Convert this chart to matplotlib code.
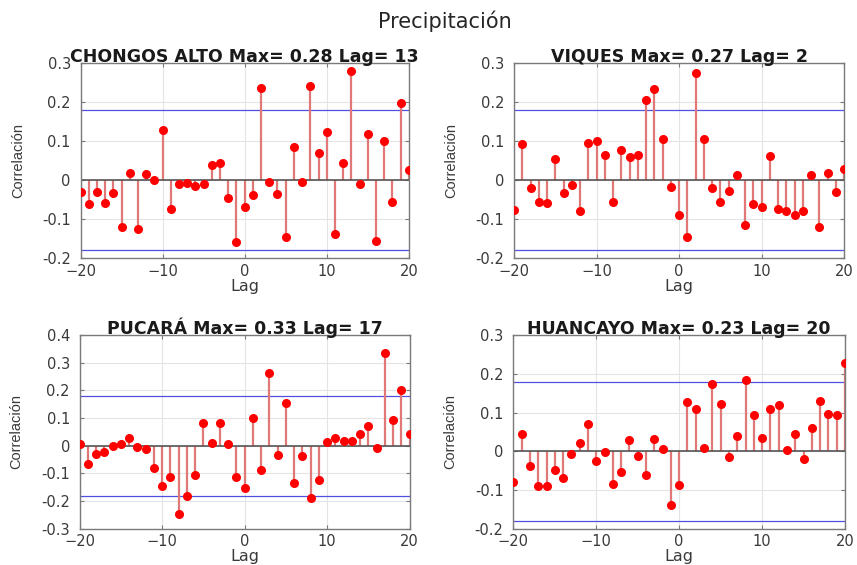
import matplotlib.pyplot as plt
import numpy as np

lags = list(range(-20, 21))

chongos = [-0.030, -0.060, -0.030, -0.059, -0.032, -0.120, 0.018, -0.125, 0.015, 0.000,
           0.128, -0.073, -0.009, -0.007, -0.015, -0.009, 0.038, 0.043, -0.045, -0.158,
           -0.069, -0.037, 0.237, -0.004, -0.036, -0.146, 0.085, -0.004, 0.242, 0.071,
           0.123, -0.138, 0.044, 0.279, -0.009, 0.119, -0.156, 0.101, -0.056, 0.199, 0.026]
viques = [-0.076, 0.094, -0.021, -0.057, -0.059, 0.055, -0.032, -0.012, -0.079, 0.096,
          0.101, 0.066, -0.055, 0.078, 0.059, 0.066, 0.205, 0.235, 0.105, -0.018,
          -0.090, -0.146, 0.274, 0.105, -0.021, -0.057, -0.028, 0.013, -0.114, -0.060,
          -0.068, 0.062, -0.074, -0.080, -0.088, -0.080, 0.013, -0.120, 0.018, -0.030, 0.028]
pucara = [0.007, -0.065, -0.028, -0.024, 0.001, 0.005, 0.027, -0.004, -0.011, -0.080,
          -0.147, -0.112, -0.246, -0.180, -0.105, 0.082, 0.011, 0.083, 0.006, -0.112,
          -0.154, 0.101, -0.088, 0.263, -0.035, 0.155, -0.136, -0.037, -0.190, -0.122,
          0.014, 0.029, 0.016, 0.017, 0.041, 0.073, -0.007, 0.334, 0.092, 0.202, 0.041]
huancayo = [-0.079, 0.044, -0.037, -0.090, -0.089, -0.048, -0.068, -0.006, 0.021, 0.071,
            -0.026, -0.003, -0.085, -0.053, 0.028, -0.012, -0.061, 0.032, 0.005, -0.139,
            -0.087, 0.127, 0.110, 0.009, 0.174, 0.123, -0.015, 0.039, 0.183, 0.094,
            0.035, 0.108, 0.119, 0.003, 0.044, -0.021, 0.059, 0.131, 0.097, 0.093, 0.227]

titles = ["CHONGOS ALTO Max= 0.28 Lag= 13", "VIQUES Max= 0.27 Lag= 2",
          "PUCARÁ Max= 0.33 Lag= 17", "HUANCAYO Max= 0.23 Lag= 20"]
series = [chongos, viques, pucara, huancayo]
bound = 0.18
ylims = [(-0.2, 0.3), (-0.2, 0.3), (-0.3, 0.4), (-0.2, 0.3)]

positions = [
    [0.094, 0.543, 0.383, 0.345],
    [0.600, 0.543, 0.385, 0.345],
    [0.093, 0.064, 0.385, 0.343],
    [0.599, 0.064, 0.387, 0.343],
]

plt.rcParams['font.family'] = 'DejaVu Sans'

fig = plt.figure(figsize=(8.57, 5.65), dpi=100)
fig.text(0.519, 0.962, "Precipitación", ha='center', va='center', fontsize=15, color='#262626')

for i in range(4):
    ax = fig.add_axes(positions[i])
    vals = series[i]
    ax.vlines(lags, 0, vals, color='#e07878', lw=1.6, zorder=2)
    ax.plot(lags, vals, 'o', color='red', markersize=5.5, zorder=3)
    ax.axhline(0, color='#555555', lw=1.2, zorder=2)
    ax.axhline(bound, color='#5050e0', lw=0.9, zorder=1)
    ax.axhline(-bound, color='#5050e0', lw=0.9, zorder=1)

    lo, hi = ylims[i]
    ax.set_xlim(-20, 20)
    ax.set_ylim(lo, hi)
    yt = np.round(np.arange(lo, hi + 0.001, 0.1), 1)
    ax.set_yticks(yt)
    ax.set_yticklabels(['0' if v == 0 else '%.1f' % v for v in yt])
    ax.set_xticks([-20, -10, 0, 10, 20])

    ax.grid(True, color='#e4e4e4', lw=0.8)
    ax.set_axisbelow(True)
    for sp in ax.spines.values():
        sp.set_color('#7a7a7a')
        sp.set_linewidth(1.0)
    ax.tick_params(direction='in', length=3, colors='#7a7a7a', labelcolor='#3a3a3a',
                   labelsize=10.5, top=True, right=True)
    ax.tick_params(axis='x', pad=4)
    ax.tick_params(axis='y', pad=7)

    ax.set_title(titles[i], fontsize=12.5, fontweight='bold', color='#1a1a1a', pad=1)
    ax.set_xlabel("Lag", fontsize=11.5, color='#3a3a3a', labelpad=0)
    ax.set_ylabel("Correlación", fontsize=10.5, color='#3a3a3a', family='Liberation Sans')
    ax.yaxis.set_label_coords(-0.17, 0.5)

fig.savefig("out.png", dpi=100)
